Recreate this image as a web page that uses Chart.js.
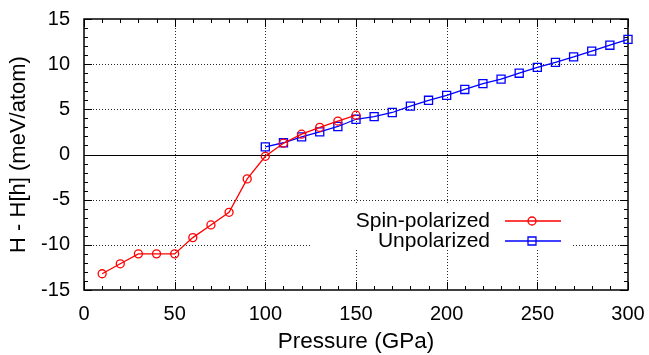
<!DOCTYPE html>
<html>
<head>
<meta charset="utf-8">
<script src="https://cdn.jsdelivr.net/npm/chart.js@4.4.0/dist/chart.umd.min.js"></script>
<style>
  html, body { margin: 0; padding: 0; background: #fff; }
  #wrap { width: 649px; height: 355px; }
</style>
</head>
<body>
<div id="wrap"><canvas id="enthalpyChart" width="649" height="355"></canvas></div>
<script>
// ================= DATA =================
const spinPressure = [10, 20, 30, 40, 50, 60, 70, 80, 90, 100, 110, 120, 130, 140, 150];
const spinValues = [-13.2, -12.1, -11.0, -11.0, -11.0, -9.2, -7.8, -6.4, -2.7, -0.2, 1.25, 2.25, 3.0, 3.7, 4.35];

const unpolPressure = [100, 110, 120, 130, 140, 150, 160, 170, 180, 190, 200,
                       210, 220, 230, 240, 250, 260, 270, 280, 290, 300];
const unpolValues = [0.85, 1.3, 1.95, 2.5, 3.1, 3.9, 4.2, 4.65, 5.35, 6.0, 6.55,
                     7.2, 7.85, 8.35, 9.0, 9.65, 10.2, 10.8, 11.45, 12.1, 12.75];

const seriesLabels = ["Spin-polarized", "Unpolarized"];
const xTickValues = [0, 50, 100, 150, 200, 250, 300];
const yTickValues = [-15, -10, -5, 0, 5, 10, 15];

const FONT = "'Liberation Sans', Arial, Helvetica, sans-serif";
Chart.defaults.font.family = FONT;
Chart.defaults.color = "#000";

// legend box (gnuplot key is opaque, grid is hidden behind it)
const KEY = { left: 312, right: 573, top: 204, bottom: 250 };

// ================= FRAME / GRID / TICKS =================
const gnuplotFrame = {
  id: "gnuplotFrame",
  beforeDatasetsDraw(chart) {
    const { ctx, chartArea: a, scales: { x, y } } = chart;

    // dotted grid, cut out where the key sits
    ctx.save();
    ctx.beginPath();
    ctx.rect(a.left, a.top, a.right - a.left, a.bottom - a.top);
    ctx.rect(KEY.left, KEY.top, KEY.right - KEY.left, KEY.bottom - KEY.top);
    ctx.clip("evenodd");
    ctx.strokeStyle = "rgba(0,0,0,0.85)";
    ctx.lineWidth = 1;
    ctx.setLineDash([1, 2]);
    xTickValues.slice(1, -1).forEach(v => {
      const px = Math.round(x.getPixelForValue(v)) + 0.5;
      ctx.beginPath();
      ctx.moveTo(px, a.top);
      ctx.lineTo(px, a.bottom);
      ctx.stroke();
    });
    yTickValues.slice(1, -1).forEach(v => {
      if (v === 0) return;
      const py = Math.round(y.getPixelForValue(v)) + 0.5;
      ctx.beginPath();
      ctx.moveTo(a.left, py);
      ctx.lineTo(a.right, py);
      ctx.stroke();
    });
    ctx.restore();

    ctx.save();
    ctx.strokeStyle = "#000";
    // zero line
    ctx.lineWidth = 1;
    const y0 = Math.round(y.getPixelForValue(0)) + 0.5;
    ctx.beginPath();
    ctx.moveTo(a.left, y0);
    ctx.lineTo(a.right, y0);
    ctx.stroke();

    // inward ticks on all four sides
    ctx.beginPath();
    for (let v = 0; v <= 300; v += 10) {
      const len = v % 50 === 0 ? 8 : 4;
      const px = Math.round(x.getPixelForValue(v)) + 0.5;
      ctx.moveTo(px, a.bottom); ctx.lineTo(px, a.bottom - len);
      ctx.moveTo(px, a.top); ctx.lineTo(px, a.top + len);
    }
    for (let v = -15; v <= 15; v += 1) {
      const len = v % 5 === 0 ? 8 : 4;
      const py = Math.round(y.getPixelForValue(v)) + 0.5;
      ctx.moveTo(a.left, py); ctx.lineTo(a.left + len, py);
      ctx.moveTo(a.right, py); ctx.lineTo(a.right - len, py);
    }
    ctx.stroke();

    // border
    ctx.lineWidth = 1.5;
    ctx.strokeRect(a.left, a.top, a.right - a.left, a.bottom - a.top);
    ctx.restore();
  },

  afterDatasetsDraw(chart) {
    const { ctx } = chart;
    const rows = [221, 241];
    ctx.save();
    chart.data.datasets.forEach((ds, i) => {
      const yy = rows[i];
      ctx.fillStyle = "#000";
      ctx.font = "21px " + FONT;
      ctx.textAlign = "right";
      ctx.textBaseline = "middle";
      ctx.fillText(ds.label, 490, yy);

      ctx.strokeStyle = ds.borderColor;
      ctx.lineWidth = 1.3;
      ctx.beginPath();
      ctx.moveTo(505, yy);
      ctx.lineTo(561, yy);
      ctx.stroke();

      ctx.beginPath();
      if (ds.pointStyle === "circle") {
        ctx.arc(532, yy, 4, 0, Math.PI * 2);
      } else {
        ctx.rect(528, yy - 4, 8, 8);
      }
      ctx.stroke();
    });
    ctx.restore();
  }
};

// ================= CHART =================
new Chart(document.getElementById("enthalpyChart"), {
  type: "line",
  data: {
    datasets: [
      {
        label: seriesLabels[0],
        data: spinPressure.map((p, i) => ({ x: p, y: spinValues[i] })),
        borderColor: "#ff0000",
        backgroundColor: "rgba(0,0,0,0)",
        borderWidth: 1.3,
        pointStyle: "circle",
        pointRadius: 4,
        pointBorderWidth: 1.3,
        pointBorderColor: "#ff0000",
        pointBackgroundColor: "rgba(0,0,0,0)",
        tension: 0,
        clip: false
      },
      {
        label: seriesLabels[1],
        data: unpolPressure.map((p, i) => ({ x: p, y: unpolValues[i] })),
        borderColor: "#0000ff",
        backgroundColor: "rgba(0,0,0,0)",
        borderWidth: 1.3,
        pointStyle: "rect",
        pointRadius: 5.7,
        pointBorderWidth: 1.3,
        pointBorderColor: "#0000ff",
        pointBackgroundColor: "rgba(0,0,0,0)",
        tension: 0,
        clip: false
      }
    ]
  },
  options: {
    responsive: false,
    animation: false,
    devicePixelRatio: 1,
    layout: { padding: { top: 19, right: 21, left: 0, bottom: 0 } },
    plugins: {
      legend: { display: false },
      tooltip: { enabled: false }
    },
    scales: {
      x: {
        type: "linear",
        min: 0,
        max: 300,
        afterFit: s => { s.height = 65; s.paddingLeft = 0; s.paddingRight = 0; },
        afterBuildTicks: s => { s.ticks = xTickValues.map(v => ({ value: v })); },
        ticks: { font: { size: 20 }, color: "#000", padding: 12, maxRotation: 0, autoSkip: false },
        grid: { display: false, drawTicks: false },
        border: { display: false },
        title: {
          display: true,
          text: "Pressure (GPa)",
          color: "#000",
          font: { size: 22.5 },
          padding: { top: 2, bottom: 0 }
        }
      },
      y: {
        type: "linear",
        min: -15,
        max: 15,
        afterFit: s => { s.width = 84; s.paddingTop = 0; s.paddingBottom = 0; },
        afterBuildTicks: s => { s.ticks = yTickValues.map(v => ({ value: v })); },
        ticks: { font: { size: 20 }, color: "#000", padding: 14, autoSkip: false },
        grid: { display: false, drawTicks: false },
        border: { display: false },
        title: {
          display: true,
          text: "H - H[h] (meV/atom)",
          color: "#000",
          font: { size: 22 },
          padding: { top: 5.5, bottom: 0 }
        }
      }
    }
  },
  plugins: [gnuplotFrame]
});
</script>
</body>
</html>
